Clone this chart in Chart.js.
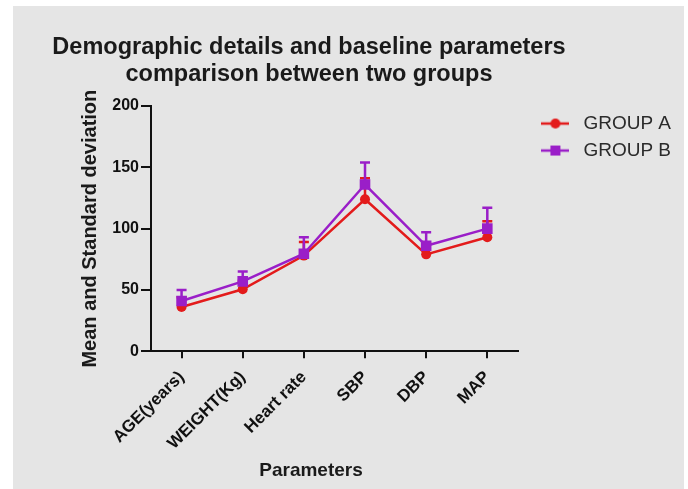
<!DOCTYPE html>
<html>
<head>
<meta charset="utf-8">
<script src="https://cdn.jsdelivr.net/npm/chart.js@4.4.1/dist/chart.umd.min.js"></script>
<style>
  body { margin: 0; background: #fff; }
  #box { position: absolute; left: 13px; top: 6px; width: 671px; height: 483px; background: #e5e5e5; }
</style>
</head>
<body>
<div id="box"><canvas id="mychart" width="671" height="483"></canvas></div>
<script>
// data
const categories = ['AGE(years)', 'WEIGHT(Kg)', 'Heart rate', 'SBP', 'DBP', 'MAP'];
const groupA = [36, 50.5, 78, 124, 79, 93];
const groupASd = [8, 7, 11, 17, 9, 13];
const groupB = [41, 57, 79.5, 136, 86, 100];
const groupBSd = [9, 8, 13.5, 18, 11, 17];
const yTicks = [0, 50, 100, 150, 200];

const redCol = '#e31b1b';
const purpleCol = '#9a1ec8';
const fontFam = "'Liberation Sans', Arial, sans-serif";

// small line+marker pictures for the legend
function legendMark(color, square) {
    const c = document.createElement('canvas');
    c.width = 28; c.height = 12;
    const g = c.getContext('2d');
    g.strokeStyle = color;
    g.lineWidth = 2.5;
    g.beginPath(); g.moveTo(0, 6); g.lineTo(28, 6); g.stroke();
    g.fillStyle = color;
    if (square) {
        g.fillRect(9, 1, 10, 10);
    } else {
        g.beginPath(); g.arc(14, 6, 5, 0, Math.PI * 2); g.fill();
    }
    return c;
}
const legendMarks = [legendMark(redCol, false), legendMark(purpleCol, true)];
const sds = [groupASd, groupBSd];

// upward error bars like the original
const errorBars = {
    id: 'errorBars',
    beforeDatasetsDraw(chart) {
        const ctx = chart.ctx;
        const y = chart.scales.y;
        chart.data.datasets.forEach((ds, i) => {
            const meta = chart.getDatasetMeta(i);
            ctx.save();
            ctx.strokeStyle = ds.borderColor;
            ctx.lineWidth = 2.5;
            meta.data.forEach((pt, j) => {
                const top = y.getPixelForValue(ds.data[j] + sds[i][j]);
                ctx.beginPath();
                ctx.moveTo(pt.x, pt.y);
                ctx.lineTo(pt.x, top);
                ctx.moveTo(pt.x - 5, top);
                ctx.lineTo(pt.x + 5, top);
                ctx.stroke();
            });
            ctx.restore();
        });
    }
};

// nudge title, bottom title and legend to where the original has them
const placeBoxes = {
    id: 'placeBoxes',
    afterLayout(chart) {
        const t = chart.titleBlock;
        t.left = 0; t.right = 592;
        const sub = chart.boxes.find(b => b !== t && b.options && b.options.text === 'Parameters');
        if (sub) { sub.left = 0; sub.right = 596; }
        chart.legend.left += 11;
        chart.legend.right += 11;
    }
};

const ctx = document.getElementById('mychart');

const mychart = new Chart(ctx, {
    type: 'line',
    data: {
        labels: categories,
        datasets: [{
            label: 'GROUP A',
            data: groupA,
            borderColor: redCol,
            backgroundColor: redCol,
            borderWidth: 2.5,
            pointStyle: 'circle',
            pointRadius: 5,
            pointBorderWidth: 0,
            order: 2
        },
        {
            label: 'GROUP B',
            data: groupB,
            borderColor: purpleCol,
            backgroundColor: purpleCol,
            borderWidth: 2.5,
            pointStyle: 'rect',
            pointRadius: 7.5,
            pointBorderWidth: 0,
            order: 1
        }]
    },
    options: {
        responsive: false,
        animation: false,
        layout: { padding: { left: 0, right: 14, top: 0, bottom: 0 } },
        plugins: {
            title: {
                display: true,
                text: ['Demographic details and baseline parameters', 'comparison between two groups'],
                color: '#1a1a1a',
                font: { family: fontFam, size: 23.5, weight: 'bold', lineHeight: 1.15 },
                padding: { top: 28, bottom: 18 }
            },
            subtitle: {
                display: true,
                position: 'bottom',
                text: 'Parameters',
                color: '#1a1a1a',
                font: { family: fontFam, size: 19, weight: 'bold', lineHeight: 1.2 },
                padding: { top: 0, bottom: 7 }
            },
            legend: {
                position: 'right',
                align: 'start',
                fullSize: false,
                labels: {
                    usePointStyle: true,
                    pointStyleWidth: 37,
                    padding: 8,
                    color: '#2b2b2b',
                    font: { family: fontFam, size: 19 },
                    sort: (a, b) => a.datasetIndex - b.datasetIndex,
                    generateLabels: chart => {
                        const items = Chart.defaults.plugins.legend.labels.generateLabels(chart);
                        items.forEach(it => { it.pointStyle = legendMarks[it.datasetIndex]; });
                        return items;
                    }
                }
            },
            tooltip: { enabled: false }
        },
        scales: {
            x: {
                offset: true,
                afterFit: s => { s.height = 108; },
                grid: { display: true, offset: false, drawOnChartArea: false, drawTicks: true, tickLength: 7, color: '#111', lineWidth: 2 },
                border: { display: true, color: '#111', width: 2 },
                ticks: {
                    minRotation: 45,
                    maxRotation: 45,
                    padding: 9,
                    color: '#111',
                    font: { family: fontFam, size: 17, weight: 'bold' }
                }
            },
            y: {
                min: yTicks[0],
                max: yTicks[yTicks.length - 1],
                afterFit: s => { s.width = 138; },
                afterBuildTicks: s => { s.ticks = yTicks.map(v => ({ value: v })); },
                grid: { display: true, drawOnChartArea: false, drawTicks: true, tickLength: 10, color: '#111', lineWidth: 2 },
                border: { display: true, color: '#111', width: 2 },
                ticks: {
                    padding: 2,
                    color: '#111',
                    font: { family: fontFam, size: 16, weight: 'bold' }
                },
                title: {
                    display: true,
                    text: 'Mean and Standard deviation',
                    color: '#1a1a1a',
                    font: { family: fontFam, size: 20, weight: 'bold', lineHeight: 1.2 },
                    padding: { top: 65.5, bottom: 0 }
                }
            }
        }
    },
    plugins: [errorBars, placeBoxes]
});
</script>
</body>
</html>
